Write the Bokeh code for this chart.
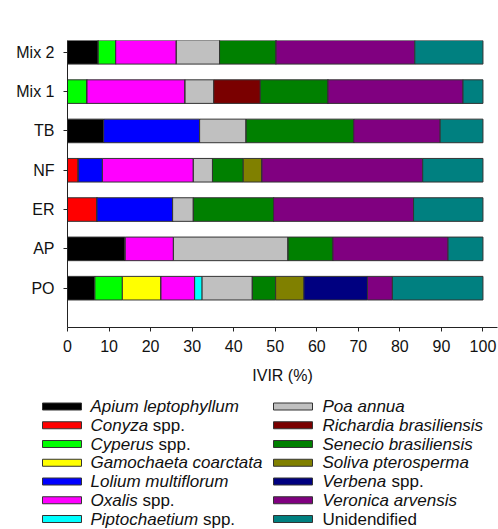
from bokeh.plotting import figure
from bokeh.models import ColumnDataSource, Range1d, FixedTicker
from bokeh.layouts import column
from bokeh.core.properties import value
from bokeh.embed import file_html
from bokeh.resources import INLINE

# Sites, top to bottom
sites = ["Mix 2", "Mix 1", "TB", "NF", "ER", "AP", "PO"]

# Importance value (IVIR, %) of each species per site, same order as sites
apium = [7.4, 0.0, 8.7, 0.0, 0.0, 13.9, 6.6]
conyza = [0.0, 0.0, 0.0, 2.6, 7.1, 0.0, 0.0]
cyperus = [4.2, 4.7, 0.0, 0.0, 0.0, 0.0, 6.6]
gamochaeta = [0.0, 0.0, 0.0, 0.0, 0.0, 0.0, 9.3]
lolium = [0.0, 0.0, 23.1, 5.8, 18.2, 0.0, 0.0]
oxalis = [14.6, 23.6, 0.0, 21.9, 0.0, 11.6, 8.1]
piptochaetium = [0.0, 0.0, 0.0, 0.0, 0.0, 0.0, 1.8]
poa = [10.4, 6.9, 11.2, 4.6, 5.0, 27.6, 12.1]
richardia = [0.0, 11.2, 0.0, 0.0, 0.0, 0.0, 0.0]
senecio = [13.6, 16.3, 25.9, 7.4, 19.3, 10.8, 5.6]
soliva = [0.0, 0.0, 0.0, 4.5, 0.0, 0.0, 6.8]
verbena = [0.0, 0.0, 0.0, 0.0, 0.0, 0.0, 15.3]
veronica = [33.4, 32.5, 20.8, 38.7, 33.7, 27.7, 6.0]
unidentified = [16.4, 4.8, 10.3, 14.5, 16.7, 8.4, 21.8]

species = ["Apium leptophyllum", "Conyza spp.", "Cyperus spp.", "Gamochaeta coarctata",
           "Lolium multiflorum", "Oxalis spp.", "Piptochaetium spp.", "Poa annua",
           "Richardia brasiliensis", "Senecio brasiliensis", "Soliva pterosperma",
           "Verbena spp.", "Veronica arvensis", "Unidendified"]
colors = ["#000000", "#ff0000", "#00ff00", "#ffff00", "#0000ff", "#ff00ff", "#00ffff",
          "#c0c0c0", "#7a0000", "#008000", "#808000", "#000080", "#800080", "#008080"]
series = [apium, conyza, cyperus, gamochaeta, lolium, oxalis, piptochaetium, poa,
          richardia, senecio, soliva, verbena, veronica, unidentified]
x_ticks = [0, 10, 20, 30, 40, 50, 60, 70, 80, 90, 100]

FONT = "Liberation Sans"
EDGE = "#333333"

keys = [f"sp{i}" for i in range(len(species))]
n = len(sites)
ypos = [n - i for i in range(n)]  # first site on top
data = {"y": ypos}
for k, s in zip(keys, series):
    data[k] = s
source = ColumnDataSource(data)

p = figure(width=498, height=395, x_range=Range1d(0, 103.5), y_range=Range1d(0, n + 0.3),
           output_backend="svg", toolbar_location=None,
           min_border_left=67, min_border_right=1, min_border_top=40, min_border_bottom=68)
p.outline_line_color = None
p.xgrid.visible = False
p.ygrid.visible = False

p.hbar_stack(keys, y="y", height=0.6, color=colors, source=source,
             line_color=EDGE, line_width=1)

p.xaxis.ticker = FixedTicker(ticks=x_ticks)
p.yaxis.ticker = FixedTicker(ticks=ypos)
p.yaxis.major_label_overrides = {y: s for y, s in zip(ypos, sites)}
p.xaxis.axis_label = "IVIR (%)"
for ax in (p.xaxis[0], p.yaxis[0]):
    ax.major_tick_out = 4
    ax.major_tick_in = 0
    ax.minor_tick_line_color = None
    ax.axis_line_color = "#222222"
    ax.major_tick_line_color = "#222222"
    ax.major_label_text_font = FONT
    ax.major_label_text_font_size = "16px"
    ax.major_label_text_color = "#111111"
p.yaxis[0].major_label_standoff = 9
ax = p.xaxis[0]
ax.major_label_standoff = 8
ax.axis_label_text_font = FONT
ax.axis_label_text_font_size = "16px"
ax.axis_label_text_font_style = "normal"
ax.axis_label_text_color = "#111111"
ax.axis_label_standoff = 12

# Legend panel, drawn in page pixel coordinates
ARIAL = {" ": 278, "C": 722, "O": 778, "P": 667, "V": 667, "a": 556, "b": 556, "c": 500,
         "e": 556, "h": 556, "i": 222, "l": 222, "m": 833, "n": 556, "o": 556, "p": 556,
         "r": 333, "s": 500, "t": 278, "u": 556, "x": 500, "y": 500, "z": 500}
LEG_FS = 17


def text_width(s):
    return sum(ARIAL.get(c, 556) for c in s) * LEG_FS / 1000.0


leg = figure(width=498, height=134, x_range=Range1d(0, 498), y_range=Range1d(529, 395),
             output_backend="svg", toolbar_location=None,
             min_border=0, min_border_left=0, min_border_right=0,
             min_border_top=0, min_border_bottom=0)
leg.axis.visible = False
leg.xgrid.visible = False
leg.ygrid.visible = False
leg.outline_line_color = None

rows = 7
row0, row_step = 406.0, 18.75
col_key = [(42, 81), (273, 312)]
col_text = [90, 322]

kl, kr, kt, kb, kc = [], [], [], [], []
tx, ty, tt, ts = [], [], [], []
for i, (name, c) in enumerate(zip(species, colors)):
    col, r = divmod(i, rows)
    yc = row0 + r * row_step
    kl.append(col_key[col][0]); kr.append(col_key[col][1])
    kt.append(yc - 3.5); kb.append(yc + 3.5); kc.append(c)
    x0 = col_text[col]
    if name.endswith(" spp."):
        genus = name[:-5]
        tx += [x0, x0 + text_width(genus + " ")]
        ty += [yc, yc]
        tt += [genus, "spp."]
        ts += ["italic", "normal"]
    elif name == "Unidendified":
        tx.append(x0); ty.append(yc); tt.append(name); ts.append("normal")
    else:
        tx.append(x0); ty.append(yc); tt.append(name); ts.append("italic")

leg.quad(left=kl, right=kr, top=kt, bottom=kb, fill_color=kc, line_color=EDGE, line_width=1)
leg.text(x="x", y="y", text="t", text_font_style="s",
         source=ColumnDataSource(dict(x=tx, y=ty, t=tt, s=ts)),
         text_font=value(FONT), text_font_size=value(f"{LEG_FS}px"),
         text_baseline="middle", text_align="left", text_color="#111111")

# nest the legend panel so its frame is laid out on its own
layout = column(p, column(leg, spacing=0), spacing=0)
open("out.html", "w").write(file_html(layout, INLINE))
